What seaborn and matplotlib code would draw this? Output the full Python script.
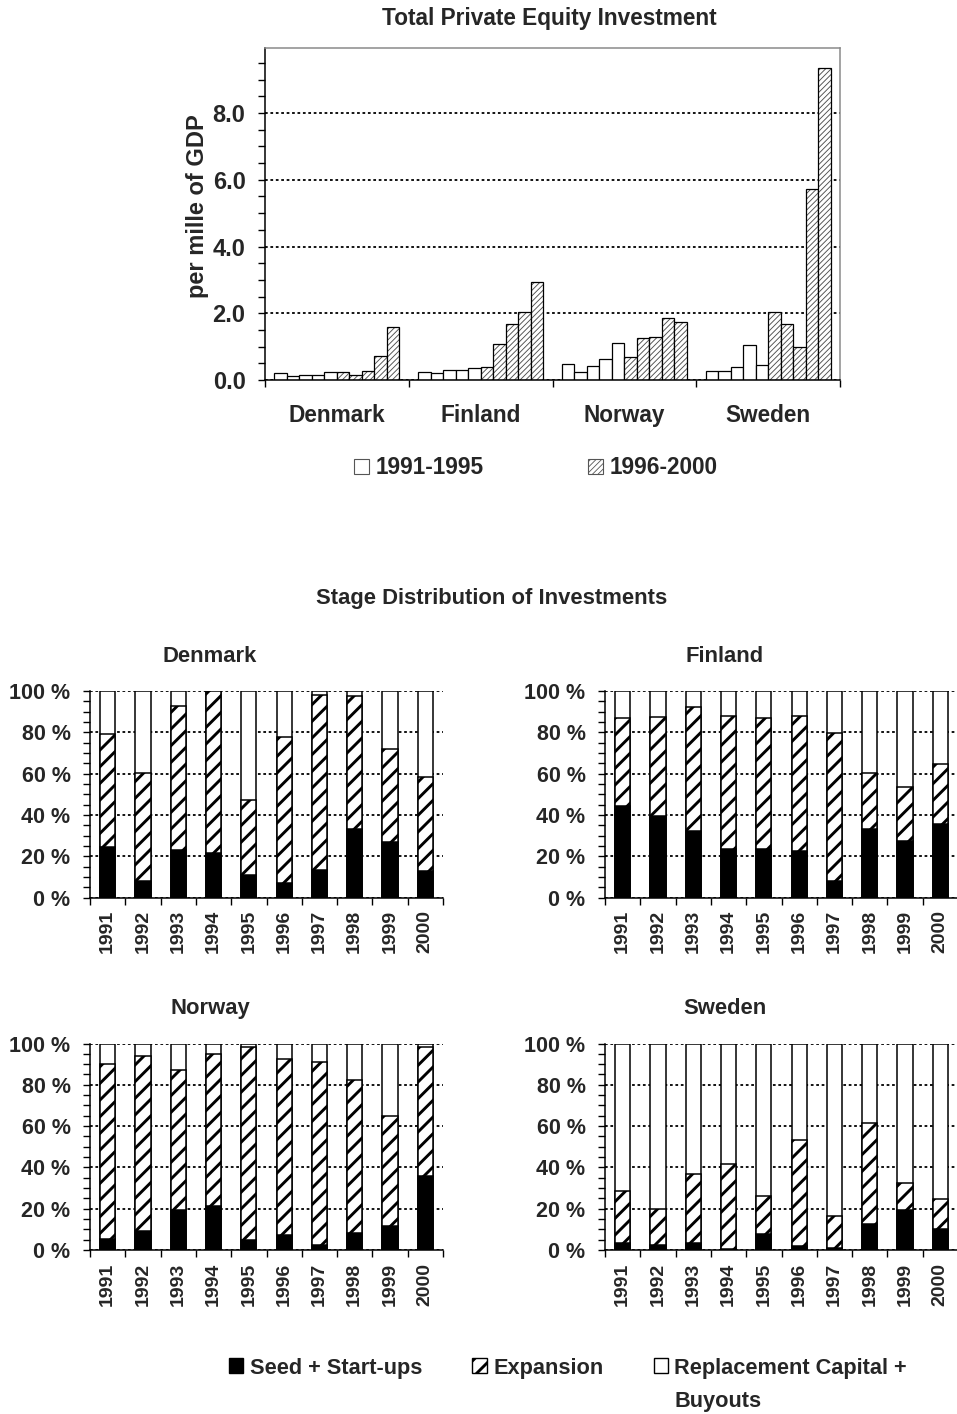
import numpy as np
import pandas as pd
import matplotlib
matplotlib.use("Agg")
import matplotlib.pyplot as plt
import matplotlib.colors as mcolors
from matplotlib.patches import Patch
from matplotlib.ticker import MultipleLocator, FixedLocator, FuncFormatter
import seaborn as sns

# ---------------- data ----------------
countries = ["Denmark", "Finland", "Norway", "Sweden"]
years = ["1991", "1992", "1993", "1994", "1995", "1996", "1997", "1998", "1999", "2000"]

# Total private equity investment, per mille of GDP
gdp_denmark = [0.22, 0.12, 0.15, 0.15, 0.25, 0.25, 0.15, 0.27, 0.72, 1.58]
gdp_finland = [0.24, 0.21, 0.30, 0.30, 0.36, 0.40, 1.07, 1.67, 2.05, 2.95]
gdp_norway = [0.48, 0.24, 0.43, 0.63, 1.10, 0.68, 1.25, 1.28, 1.85, 1.73]
gdp_sweden = [0.27, 0.27, 0.38, 1.05, 0.46, 2.04, 1.69, 0.98, 5.72, 9.35]

# Stage distribution (% of investments)
seed_denmark = [24.5, 8.1, 23.2, 21.6, 11.1, 7.1, 13.2, 33.4, 26.8, 12.6]
exp_denmark = [54.5, 52.4, 69.7, 78.4, 36.3, 70.6, 85.0, 64.3, 45.0, 45.9]
seed_finland = [44.2, 39.5, 32.1, 23.7, 23.7, 22.7, 8.1, 33.2, 27.6, 35.6]
exp_finland = [42.9, 47.8, 60.2, 64.4, 63.4, 65.4, 71.7, 27.1, 25.8, 29.1]
seed_norway = [5.5, 9.2, 19.2, 21.3, 4.7, 7.1, 2.4, 8.2, 11.8, 35.7]
exp_norway = [84.5, 84.7, 67.9, 73.7, 93.7, 85.6, 88.4, 74.3, 53.1, 62.7]
seed_sweden = [3.4, 2.6, 3.4, 0.6, 7.9, 1.8, 1.1, 12.8, 19.2, 10.2]
exp_sweden = [25.4, 17.4, 33.6, 40.9, 18.1, 51.4, 15.5, 48.8, 13.1, 14.4]

period_labels = ["1991-1995", "1996-2000"]
stage_labels = ["Seed + Start-ups", "Expansion", "Replacement Capital +\nBuyouts"]

# ---------------- style ----------------
sns.set_style("white")
plt.rcParams["font.family"] = ["Liberation Sans", "DejaVu Sans"]
plt.rcParams["font.weight"] = "bold"
plt.rcParams["axes.labelweight"] = "bold"
plt.rcParams["axes.titleweight"] = "bold"

W, H = 957, 1414
fig = plt.figure(figsize=(W / 100, H / 100), dpi=100)


def fx(px):
    return px / W


def fy(py):
    return 1 - py / H


def set_hatch_lw(p, lw):
    if hasattr(p, "set_hatch_linewidth"):
        p.set_hatch_linewidth(lw)
    else:
        p._hatch_linewidth = lw


# ---------------- top chart ----------------
ax = fig.add_axes([fx(265), fy(380), fx(840) - fx(265), fy(48) - fy(380)])
gdp_values = {"Denmark": gdp_denmark, "Finland": gdp_finland,
              "Norway": gdp_norway, "Sweden": gdp_sweden}
rows = []
for c in countries:
    for y, v in zip(years, gdp_values[c]):
        rows.append({"country": c, "year": y, "value": v})
df_top = pd.DataFrame(rows)

with plt.rc_context({"hatch.linewidth": 0.6}):
    sns.barplot(data=df_top, x="country", y="value", hue="year", order=countries,
                hue_order=years, palette=["white"] * len(years), saturation=1,
                edgecolor="black", linewidth=0.9, width=0.87, errorbar=None,
                legend=False, ax=ax)
hatch_gray = mcolors.to_rgba("#505050")
for yr, cont in zip(years, ax.containers):
    if int(yr) >= 1996:
        for p in cont:
            p.set_hatch("//////")
            p._hatch_color = hatch_gray
            set_hatch_lw(p, 0.65)
            p.stale = True

ax.set_ylim(0, 9.95)
ax.set_xlim(-0.5, 3.5)
ax.yaxis.set_major_locator(MultipleLocator(2))
ax.yaxis.set_minor_locator(MultipleLocator(0.5))
ax.yaxis.set_major_formatter(FuncFormatter(lambda v, _: f"{v:.1f}"))
ax.tick_params(axis="y", which="both", direction="out", length=5, width=1,
               color="black", left=True, labelsize=17, pad=9)
ax.xaxis.set_major_locator(FixedLocator([0, 1, 2, 3]))
ax.xaxis.set_minor_locator(FixedLocator([-0.5, 0.5, 1.5, 2.5, 3.5]))
ax.set_xticklabels(countries)
ax.tick_params(axis="x", which="major", length=0, labelsize=16.3, pad=17)
ax.tick_params(axis="x", which="minor", direction="out", length=5, width=1,
               color="black", bottom=True)
ax.set_xlabel("")
ax.set_ylabel("per mille of GDP", fontsize=17, fontweight="bold")
ax.yaxis.set_label_coords(-0.098, 0.525)
ax.grid(axis="y", which="major", color="black", linestyle=(0, (1.5, 1.5)), lw=1.3)
ax.grid(axis="x", visible=False)
ax.set_axisbelow(True)
for s in ["left", "bottom"]:
    ax.spines[s].set_color("black")
    ax.spines[s].set_linewidth(1.1)
for s in ["top", "right"]:
    ax.spines[s].set_color("#8a8a8a")
    ax.spines[s].set_linewidth(1.1)
    ax.spines[s].set_visible(True)

fig.text(fx(549), fy(18), "Total Private Equity Investment", ha="center",
         va="center", fontsize=16.3, fontweight="bold")

with plt.rc_context({"hatch.linewidth": 0.6}):
    top_handles = [
        Patch(facecolor="white", edgecolor="#555555", linewidth=0.8),
        Patch(facecolor="white", edgecolor="#555555", linewidth=0.8, hatch="//////"),
    ]
    leg1 = fig.legend(top_handles, period_labels, loc="center",
                      bbox_to_anchor=(fx(536), fy(468)), ncol=2, frameon=False,
                      handlelength=0.65, handleheight=0.65, handletextpad=0.3,
                      columnspacing=4.6, prop={"size": 16.3, "weight": "bold"})
for p in leg1.get_patches():
    set_hatch_lw(p, 0.6)

# ---------------- stage distribution ----------------
fig.text(fx(492), fy(598), "Stage Distribution of Investments", ha="center",
         va="center", fontsize=15.8, fontweight="bold")

seed_values = {"Denmark": seed_denmark, "Finland": seed_finland,
               "Norway": seed_norway, "Sweden": seed_sweden}
exp_values = {"Denmark": exp_denmark, "Finland": exp_finland,
              "Norway": exp_norway, "Sweden": exp_sweden}

panel_pos = {
    "Denmark": (90, 897.5),
    "Finland": (605, 897.5),
    "Norway": (90, 1250),
    "Sweden": (605, 1250),
}
pw, ph = 353, 206.5
HATCH_LW = 2.1

for c in countries:
    left, bottom = panel_pos[c]
    a = fig.add_axes([fx(left), fy(bottom), pw / W, ph / H])
    seed = np.array(seed_values[c])
    exp = np.array(exp_values[c])
    df = pd.DataFrame({"year": years, "seed": seed, "seed_exp": seed + exp,
                       "total": np.full(len(years), 100.0)})
    sns.barplot(data=df, x="year", y="total", color="white", saturation=1,
                edgecolor="black", linewidth=1.1, width=0.43, errorbar=None, ax=a)
    with plt.rc_context({"hatch.linewidth": HATCH_LW}):
        sns.barplot(data=df, x="year", y="seed_exp", color="white", saturation=1,
                    edgecolor="black", linewidth=1.1, width=0.43, errorbar=None,
                    hatch="//", ax=a)
    for p in a.containers[-1]:
        set_hatch_lw(p, HATCH_LW)
    sns.barplot(data=df, x="year", y="seed", color="black", saturation=1,
                edgecolor="black", linewidth=1.1, width=0.43, errorbar=None, ax=a)

    a.set_ylim(0, 100)
    a.set_xlim(-0.5, 9.5)
    a.yaxis.set_major_locator(MultipleLocator(20))
    a.yaxis.set_minor_locator(MultipleLocator(5))
    a.yaxis.set_major_formatter(FuncFormatter(lambda v, _: f"{int(round(v))} %"))
    a.tick_params(axis="y", which="both", direction="out", length=5, width=1,
                  color="black", left=True, labelsize=15.5, pad=9)
    a.xaxis.set_major_locator(FixedLocator(list(range(len(years)))))
    a.xaxis.set_minor_locator(FixedLocator([i - 0.5 for i in range(len(years) + 1)]))
    a.set_xticklabels(years, rotation=90)
    a.tick_params(axis="x", which="major", length=0, labelsize=14, pad=9)
    a.tick_params(axis="x", which="minor", direction="out", length=5, width=1,
                  color="black", bottom=True)
    a.set_xlabel("")
    a.set_ylabel("")
    a.grid(axis="y", which="major", color="black", linestyle=(0, (1.5, 1.5)), lw=1.3)
    a.grid(axis="x", visible=False)
    a.set_axisbelow(True)
    for s in ["top", "right"]:
        a.spines[s].set_visible(False)
    for s in ["left", "bottom"]:
        a.spines[s].set_color("black")
        a.spines[s].set_linewidth(1.1)
    a.text(0.34, 1.168, c, transform=a.transAxes, ha="center", va="center",
           fontsize=15.8, fontweight="bold")

with plt.rc_context({"hatch.linewidth": HATCH_LW}):
    stage_handles = [
        Patch(facecolor="black", edgecolor="black", linewidth=1),
        Patch(facecolor="white", edgecolor="black", linewidth=1, hatch="//"),
        Patch(facecolor="white", edgecolor="black", linewidth=1),
    ]
    leg2 = fig.legend(stage_handles, stage_labels, loc="upper center",
                      bbox_to_anchor=(fx(568), fy(1358)), ncol=3, frameon=False,
                      handlelength=0.65, handleheight=0.65, handletextpad=0.3,
                      columnspacing=2.3, borderpad=0, borderaxespad=0,
                      prop={"size": 15.7, "weight": "bold"})
for p in leg2.get_patches():
    set_hatch_lw(p, HATCH_LW)
leg2.get_texts()[2].set_linespacing(1.75)
# align each legend entry (handle + text) to the top so the wrapped label
# continues below the first line, as in the reference
hbox = leg2._legend_handle_box
hbox.align = "top"
for col in hbox.get_children():
    for item in col.get_children():
        item.align = "top"

fig.savefig("out.png", dpi=100)
